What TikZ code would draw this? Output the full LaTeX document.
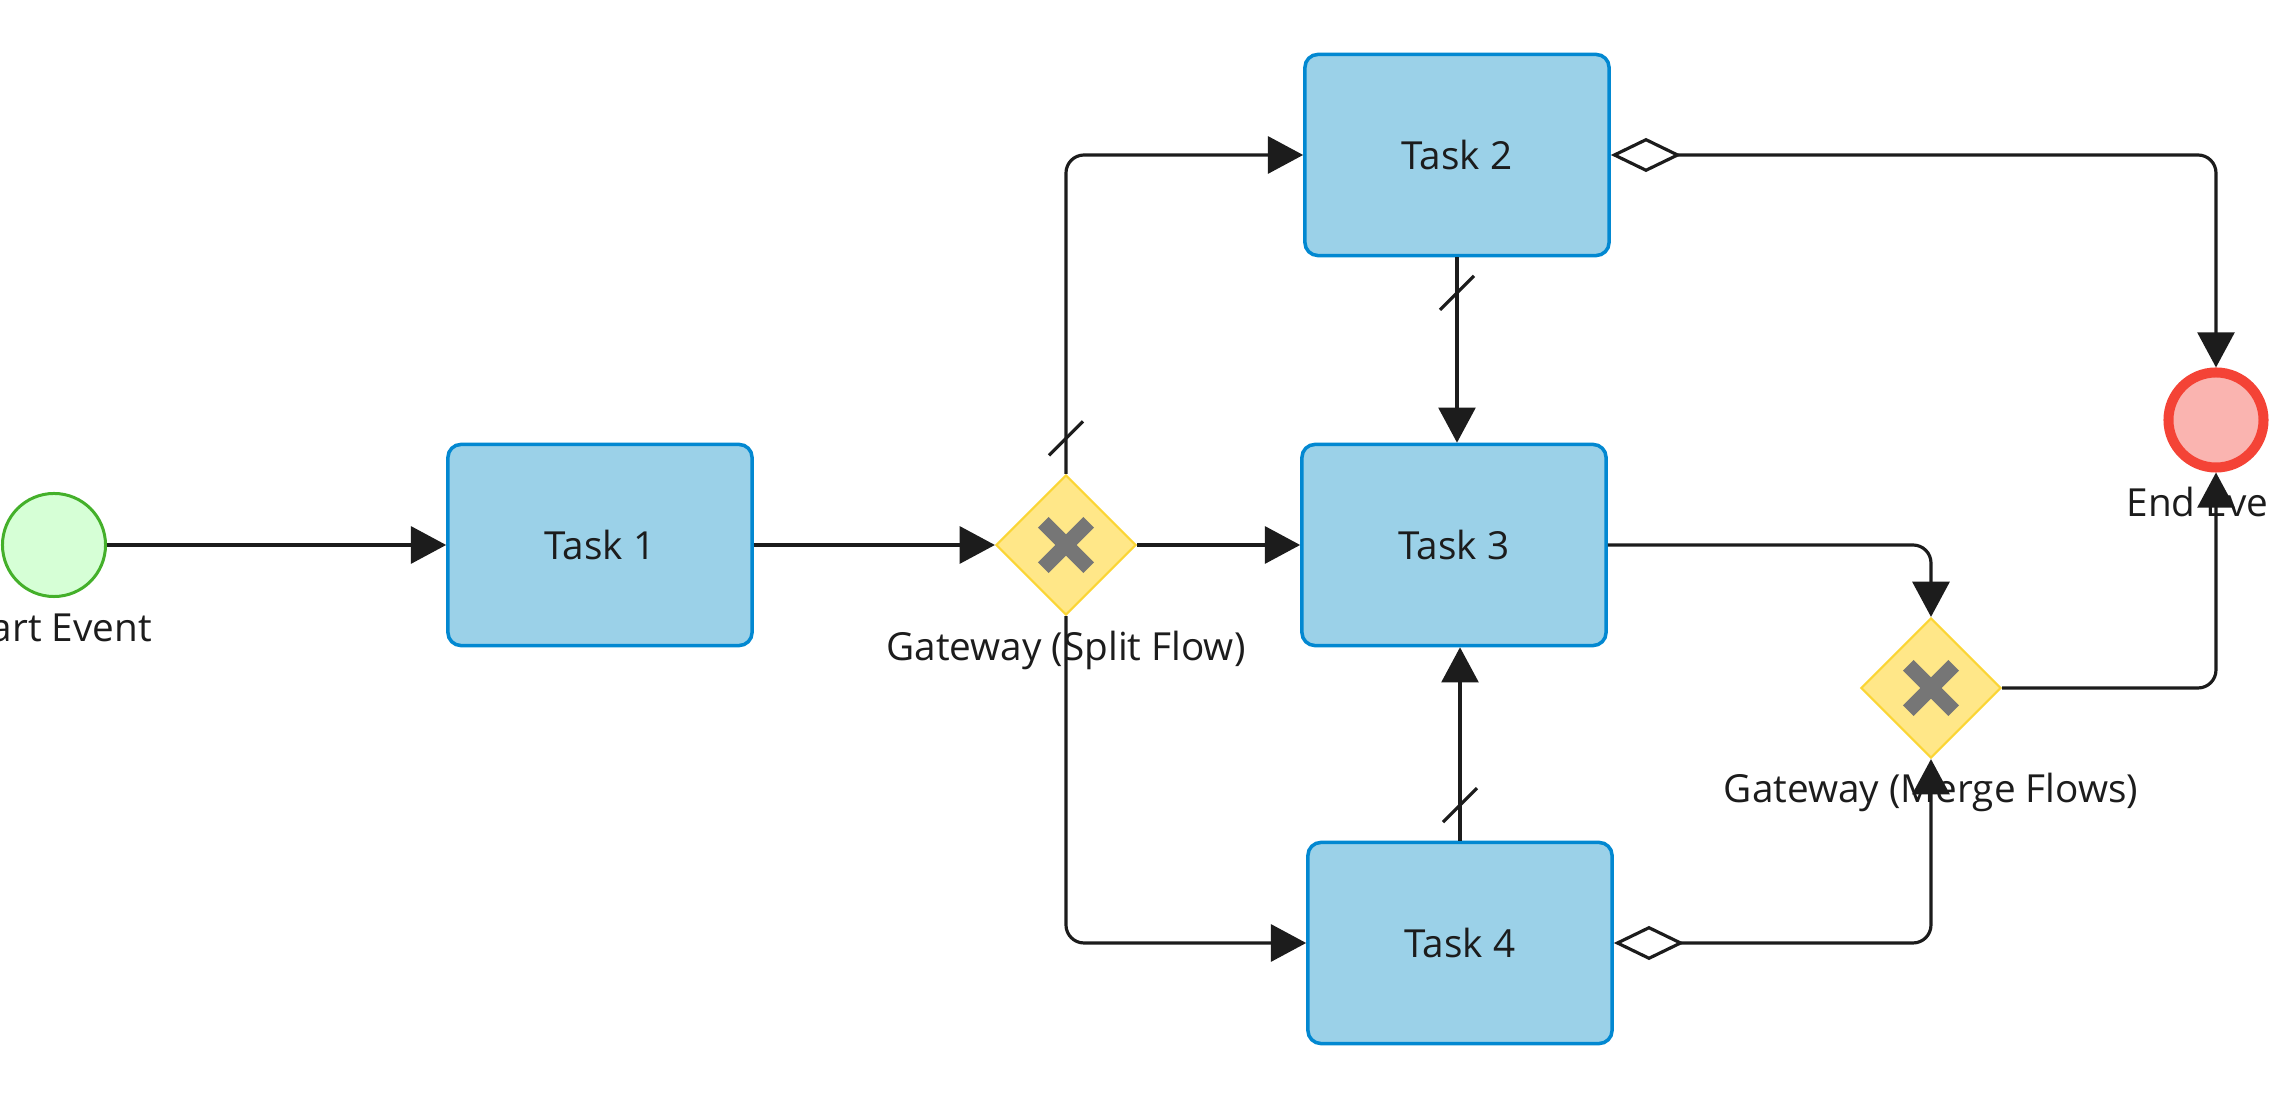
\documentclass[tikz,border=0pt]{standalone}
\usepackage{fontspec}
\setmainfont{Open Sans}
\usetikzlibrary{arrows.meta,shapes.geometric,decorations.markings}
\definecolor{Ink}{HTML}{1C1C1C}
\definecolor{TaskFill}{HTML}{9BD1E8}
\definecolor{TaskLine}{HTML}{0288D1}
\definecolor{GateFill}{HTML}{FFE788}
\definecolor{GateLine}{HTML}{FBD535}
\definecolor{GateMark}{HTML}{767676}
\definecolor{StartFill}{HTML}{D6FFD6}
\definecolor{StartLine}{HTML}{44B02A}
\definecolor{EndFill}{HTML}{FAB4B0}
\definecolor{EndLine}{HTML}{F44336}
\tikzset{
    task/.style={draw=TaskLine,fill=TaskFill,line width=1pt,rounded corners=0.13cm,minimum width=3.04cm,minimum height=2.01cm,text=Ink},
    gateway/.style={diamond,aspect=1,draw=GateLine,fill=GateFill,line width=0.6pt,inner sep=0pt,minimum width=1.4cm,minimum height=1.4cm},
    startevent/.style={circle,draw=StartLine,fill=StartFill,line width=0.85pt,inner sep=0pt,minimum size=1.03cm},
    endevent/.style={circle,draw=EndLine,fill=EndFill,line width=2.85pt,inner sep=0pt,minimum size=0.95cm},
    lbl/.style={anchor=base,text=Ink,inner sep=0pt},
    xmark/.style={GateMark,line width=4.3pt},
    flow/.style={draw=Ink,line width=0.9pt,rounded corners=0.18cm,-{Triangle[length=10pt,width=10.5pt]}},
    assoc/.style={flow,{Diamond[open,length=20pt,width=9.7pt]}-{Triangle[length=10pt,width=10.5pt]}},
    defaultflow/.style={flow,postaction={decorate,decoration={markings,mark=at position 0.355cm with {\draw[-,Ink,line width=0.9pt] (-0.17cm,0.17cm)--(0.17cm,-0.17cm);}}}}
}

\begin{document}
\begin{tikzpicture}[x=0.01cm,y=-0.01cm,font=\fontsize{11}{13}\selectfont]
    \path[use as bounding box,fill=white] (0,0) rectangle (2271,1098);
    % events, tasks, gateways
    \node[startevent] (se) at (54,545) {};
    \node[task] (t1) at (600,545) {Task 1};
    \node[gateway] (gs) at (1066,545) {};
    \node[task] (t2) at (1457,155) {Task 2};
    \node[task] (t3) at (1454,545) {Task 3};
    \node[task] (t4) at (1460,943) {Task 4};
    \node[gateway] (gm) at (1931,688) {};
    \node[endevent] (ee) at (2216,420) {};
    \foreach \g in {gs,gm} {
        \draw[xmark] ([shift={(-22.7,-22.7)}]\g.center) -- ([shift={(22.7,22.7)}]\g.center);
        \draw[xmark] ([shift={(-22.7,22.7)}]\g.center) -- ([shift={(22.7,-22.7)}]\g.center);
    }
    % labels under the shapes
    \node[lbl] (seText) at (54,642) {Start Event};
    \node[lbl] (gsText) at (1066,661) {Gateway (Split Flow)};
    \node[lbl] (gmText) at (1931,803) {Gateway (Merge Flows)};
    \node[lbl] (eeText) at (2216,517) {End Event};
    % flows
    \draw[flow] (se) -- (t1);
    \draw[flow] (t1) -- (gs);
    \draw[flow] (gs) -- (t3);
    \draw[defaultflow] (gs.north) |- (t2.west);
    \draw[flow] (gs.south) |- (t4.west);
    \draw[defaultflow] (t2.south) -- (t2.south |- t3.north);
    \draw[defaultflow] (t4.north) -- (t4.north |- t3.south);
    \draw[flow] (t3.east) -| (gm.north);
    \draw[assoc] (t4.east) -| (gm.south);
    \draw[assoc] (t2.east) -| (ee.north);
    \draw[flow] (gm.east) -| (ee.south);
\end{tikzpicture}
\end{document}
